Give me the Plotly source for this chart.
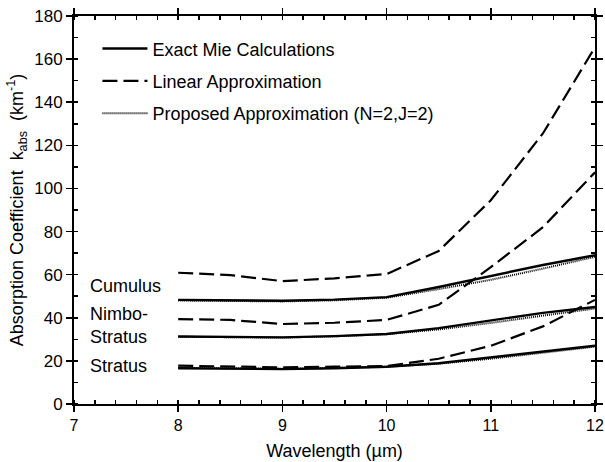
import plotly.graph_objects as go

# ---- data ----
wavelength = [8, 8.5, 9, 9.5, 10, 10.5, 11, 11.5, 12]

cumulus_exact    = [48.3, 48.0, 47.9, 48.4, 49.6, 54.3, 59.3, 64.5, 69.0]
cumulus_proposed = [48.0, 47.7, 47.6, 48.1, 49.3, 53.3, 57.6, 62.8, 68.3]
cumulus_linear   = [60.9, 59.8, 57.0, 58.3, 60.3, 71.0, 94.5, 125.5, 165.5]

nimbo_exact    = [31.3, 31.0, 30.9, 31.5, 32.5, 35.2, 38.8, 42.3, 45.0]
nimbo_proposed = [31.2, 30.9, 30.8, 31.4, 32.4, 34.6, 37.6, 41.0, 44.3]
nimbo_linear   = [39.4, 39.0, 37.1, 37.7, 39.0, 46.0, 63.5, 82.0, 107.5]

stratus_exact    = [16.6, 16.3, 16.2, 16.6, 17.3, 18.9, 21.5, 24.3, 27.0]
stratus_proposed = [16.8, 16.5, 16.4, 16.7, 17.3, 18.7, 21.0, 23.8, 26.6]
stratus_linear   = [17.8, 17.5, 17.0, 17.3, 17.6, 21.0, 27.0, 36.0, 48.3]

legend_names = ["Exact Mie Calculations", "Linear Approximation",
                "Proposed Approximation (N=2,J=2)"]
cloud_labels = ["Cumulus", "Nimbo-<br>Stratus", "Stratus"]
cloud_label_y = [54.7, 36.4, 17.8]
x_ticks = [7, 8, 9, 10, 11, 12]
y_ticks = [0, 20, 40, 60, 80, 100, 120, 140, 160, 180]

FONT = "Liberation Sans, Arial, Helvetica, sans-serif"
styles = [
    dict(color="black", width=2.4, dash="solid"),
    dict(color="black", width=2.2, dash="15px,6px"),
    dict(color="black", width=2.0, dash="1px,1px"),
]

fig = go.Figure()

series = [
    (cumulus_proposed, 2), (nimbo_proposed, 2), (stratus_proposed, 2),
    (cumulus_exact, 0), (nimbo_exact, 0), (stratus_exact, 0),
    (cumulus_linear, 1), (nimbo_linear, 1), (stratus_linear, 1),
]
for ys, si in series:
    fig.add_trace(go.Scatter(x=wavelength, y=ys, mode="lines",
                             line=styles[si], showlegend=False,
                             hoverinfo="skip"))

for i, name in enumerate(legend_names):
    fig.add_trace(go.Scatter(x=[None], y=[None], mode="lines", name=name,
                             line=styles[i], legendgroup=f"g{i}",
                             showlegend=True))

for txt, yv in zip(cloud_labels, cloud_label_y):
    fig.add_annotation(x=7.13, y=yv, text=txt, xref="x", yref="y",
                       xanchor="left", yanchor="middle", align="left",
                       showarrow=False,
                       font=dict(family=FONT, size=18, color="black"))

axis_common = dict(
    showline=True, linecolor="black", linewidth=2, mirror="ticks",
    ticks="outside", tickwidth=1.5, tickcolor="black",
    showgrid=False, zeroline=False, automargin=False,
)

fig.update_xaxes(range=[7, 12], tickvals=x_ticks, ticklen=6,
                 ticklabeloverflow="allow",
                 tickfont=dict(family=FONT, size=16, color="black"),
                 minor=dict(dtick=0.2, ticks="inside", ticklen=4,
                            tickwidth=1.5, tickcolor="black"),
                 title=dict(text="Wavelength (µm)", standoff=11,
                            font=dict(family=FONT, size=18, color="black")),
                 **axis_common)
fig.update_yaxes(range=[0, 180], tickvals=y_ticks, ticklen=6,
                 tickfont=dict(family=FONT, size=17, color="black"),
                 minor=dict(dtick=10, ticks="inside", ticklen=4,
                            tickwidth=1.5, tickcolor="black"),
                 title=dict(text="Absorption Coefficient  k<sub>abs</sub>  (km<sup>-1</sup>)",
                            standoff=6,
                            font=dict(family=FONT, size=18, color="black")),
                 **axis_common)

fig.update_layout(
    width=605, height=462,
    margin=dict(l=74, r=10, t=16, b=58),
    paper_bgcolor="white", plot_bgcolor="white",
    font=dict(family=FONT, size=18, color="black"),
    showlegend=True,
    legend=dict(x=0.045, y=0.963, xanchor="left", yanchor="top",
                bgcolor="rgba(0,0,0,0)", borderwidth=0,
                font=dict(family=FONT, size=18, color="black"),
                tracegroupgap=6, itemwidth=45),
)

fig.write_html("out.html",
               config={"displayModeBar": False, "staticPlot": True},
               post_script="document.body.style.margin='0';document.body.style.overflow='hidden';")
